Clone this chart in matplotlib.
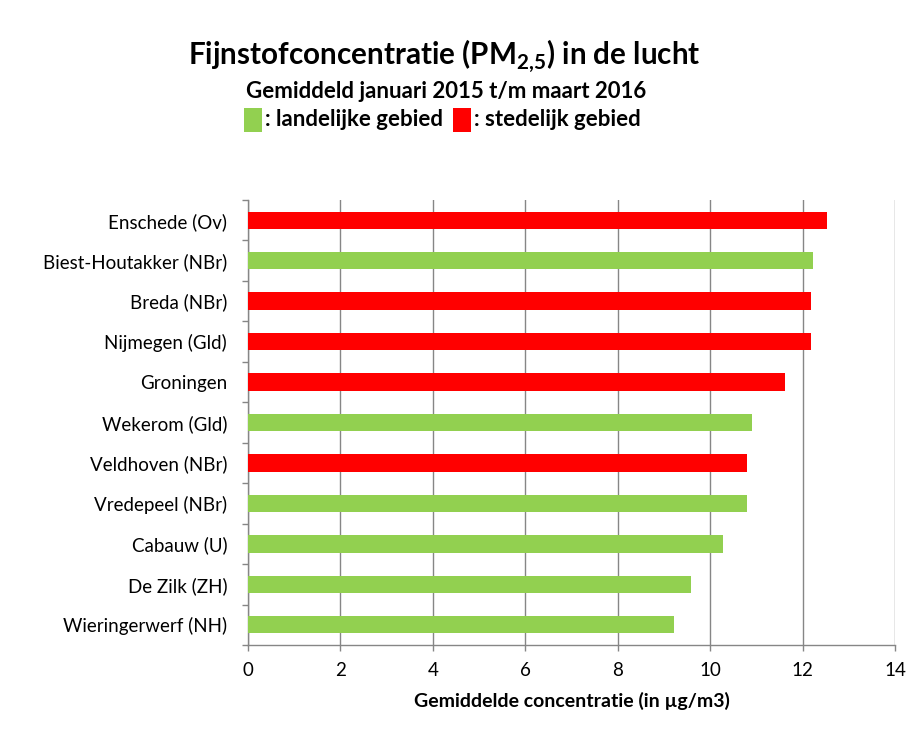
import matplotlib
matplotlib.use("Agg")
import matplotlib.pyplot as plt
from matplotlib.patches import Rectangle
import numpy as np

plt.rcParams['font.family'] = ['Lato', 'DejaVu Sans']
plt.rcParams['mathtext.fontset'] = 'custom'
plt.rcParams['mathtext.rm'] = 'Lato'
plt.rcParams['mathtext.bf'] = 'Lato:bold'

locations = ["Enschede (Ov)", "Biest-Houtakker (NBr)", "Breda (NBr)", "Nijmegen (Gld)",
             "Groningen", "Wekerom (Gld)", "Veldhoven (NBr)", "Vredepeel (NBr)",
             "Cabauw (U)", "De Zilk (ZH)", "Wieringerwerf (NH)"]
values = [12.53, 12.23, 12.18, 12.18, 11.63, 10.91, 10.80, 10.80, 10.28, 9.59, 9.22]
area_type = ["stad", "land", "stad", "stad", "stad", "land", "stad", "land", "land", "land", "land"]
colors = {"land": "#92D050", "stad": "#FF0000"}
xticks = [0, 2, 4, 6, 8, 10, 12, 14]

fig = plt.figure(figsize=(9.22, 7.35), dpi=100)
ax = fig.add_axes([248/922, 1-645/735, (895-248)/922, (645-200)/735])

n = len(locations)
ypos = np.arange(n)[::-1]
ax.barh(ypos, values, height=0.43, color=[colors[t] for t in area_type], zorder=3)

ax.set_xlim(0, 14)
ax.set_ylim(-0.5, n - 0.5)
ax.set_xticks(xticks)
ax.set_xticklabels([str(t) for t in xticks], fontsize=13.5)
ax.set_yticks(ypos)
ax.set_yticklabels(locations, fontsize=13.5)
ax.set_yticks(np.arange(-0.5, n, 1.0), minor=True)
ax.tick_params(axis='y', which='major', length=0, pad=15)
ax.tick_params(axis='y', which='minor', length=4.5, color='#868686', width=1)
ax.tick_params(axis='x', which='major', length=4.5, color='#868686', width=1, pad=8)
ax.grid(axis='x', color='#868686', linewidth=1, zorder=0)
for s in ['top', 'right']:
    ax.spines[s].set_visible(False)
for s in ['left', 'bottom']:
    ax.spines[s].set_color('#868686')
    ax.spines[s].set_linewidth(1)

ax.set_xlabel("Gemiddelde concentratie (in µg/m3)", fontsize=14, fontweight='bold', labelpad=9)

fig.text(444/922, 1-56/735, "Fijnstofconcentratie (PM$_{\\mathbf{2{,}5}}$) in de lucht",
         ha='center', va='center', fontsize=21.3, fontweight='bold')
fig.text(446/922, 1-91/735, "Gemiddeld januari 2015 t/m maart 2016",
         ha='center', va='center', fontsize=16, fontweight='bold')

# legend line
fig.patches.append(Rectangle((244/922, 1-132/735), 18/922, 24/735, transform=fig.transFigure,
                             facecolor=colors["land"], edgecolor='none'))
fig.text(265/922, 1-120/735, ": landelijke gebied", ha='left', va='center',
         fontsize=16, fontweight='bold')
fig.patches.append(Rectangle((453/922, 1-132/735), 18/922, 24/735, transform=fig.transFigure,
                             facecolor=colors["stad"], edgecolor='none'))
fig.text(474/922, 1-120/735, ": stedelijk gebied", ha='left', va='center',
         fontsize=16, fontweight='bold')

fig.savefig("out.png", dpi=100)
